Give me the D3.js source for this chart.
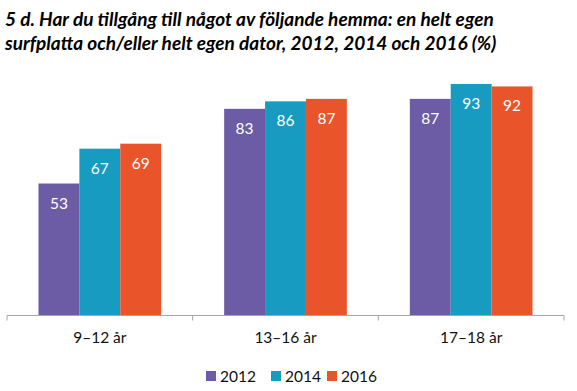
<!DOCTYPE html>
<html>
<head>
<meta charset="utf-8">
<script src="https://cdn.jsdelivr.net/npm/d3@7"></script>
<style>
  body { margin: 0; background: #fff; }
  svg { display: block; font-family: Lato, "Open Sans", sans-serif; }
</style>
</head>
<body>
<svg id="chart" width="577" height="391"></svg>
<script>
"use strict";

// données
const categories = ["9–12 år", "13–16 år", "17–18 år"];
const years = ["2012", "2014", "2016"];
const values2012 = [53, 83, 87];
const values2014 = [67, 86, 93];
const values2016 = [69, 87, 92];
const titleLines = [
  "5 d. Har du tillgång till något av följande hemma: en helt egen",
  "surfplatta och/eller helt egen dator, 2012, 2014 och 2016 (%)"
];
const colors = ["#6c5ba5", "#179bc1", "#e9542a"];

const series = [values2012, values2014, values2016];
const svg = d3.select("#chart");

// titre
svg.append("g")
  .selectAll("text")
  .data(titleLines)
  .enter()
  .append("text")
  .attr("x", 5)
  .attr("y", function(d, i) { return 26 + i * 24; })
  .style("font-size", "19px")
  .style("font-weight", "bold")
  .style("font-style", "italic")
  .attr("fill", "#000")
  .text(function(d) { return d; });

const x0 = d3.scaleBand()
  .domain(categories)
  .range([7, 564])
  .paddingInner(0)
  .paddingOuter(0);

const x1 = d3.scaleBand()
  .domain(years)
  .range([0, x0.bandwidth()])
  .paddingOuter(0.77)
  .paddingInner(0);

const y = d3.scaleLinear()
  .domain([0, 100])
  .range([315.5, 66.5]);

const groups = svg.append("g")
  .selectAll("g")
  .data(categories)
  .enter()
  .append("g")
  .attr("transform", function(d) { return "translate(" + x0(d) + ",0)"; });

const bars = groups.selectAll("g.bar")
  .data(function(c, ci) {
    return years.map(function(yr, si) {
      return { year: yr, value: series[si][ci], color: colors[si] };
    });
  })
  .enter()
  .append("g")
  .attr("class", "bar");

bars.append("rect")
  .attr("x", function(d) { return x1(d.year); })
  .attr("y", function(d) { return y(d.value); })
  .attr("width", x1.bandwidth())
  .attr("height", function(d) { return y(0) - y(d.value); })
  .attr("fill", function(d) { return d.color; });

bars.append("text")
  .attr("x", function(d) { return x1(d.year) + x1.bandwidth() / 2; })
  .attr("y", function(d) { return y(d.value) + 25; })
  .attr("text-anchor", "middle")
  .attr("fill", "#fff")
  .style("font-size", "15.5px")
  .text(function(d) { return d.value; });

// axe des x
const xAxis = d3.axisBottom(x0)
  .tickSize(0)
  .tickPadding(16);

const axisG = svg.append("g")
  .attr("transform", "translate(0," + y(0) + ")")
  .call(xAxis);
axisG.select(".domain").remove();
axisG.selectAll("text")
  .style("font-size", "15.5px")
  .style("font-family", "Lato, sans-serif")
  .attr("fill", "#111");

axisG.append("line")
  .attr("x1", x0.range()[0])
  .attr("x2", x0.range()[1])
  .attr("stroke", "#a6a6a6")
  .attr("stroke-width", 1);

const bounds = categories.map(function(c) { return x0(c); }).concat([x0.range()[1]]);
axisG.selectAll("line.sep")
  .data(bounds)
  .enter()
  .append("line")
  .attr("class", "sep")
  .attr("x1", function(d) { return d; })
  .attr("x2", function(d) { return d; })
  .attr("y1", 0)
  .attr("y2", 5)
  .attr("stroke", "#a6a6a6");

// légende
const legendX = [206, 271, 327];
const legend = svg.append("g")
  .attr("transform", "translate(0,376)")
  .style("font-size", "15.5px");

legend.selectAll("rect")
  .data(years)
  .enter()
  .append("rect")
  .attr("x", function(d, i) { return legendX[i]; })
  .attr("y", -5)
  .attr("width", 10)
  .attr("height", 10)
  .attr("fill", function(d, i) { return colors[i]; });

legend.selectAll("text")
  .data(years)
  .enter()
  .append("text")
  .attr("x", function(d, i) { return legendX[i] + 14; })
  .attr("y", 5.5)
  .attr("fill", "#111")
  .text(function(d) { return d; });
</script>
</body>
</html>
